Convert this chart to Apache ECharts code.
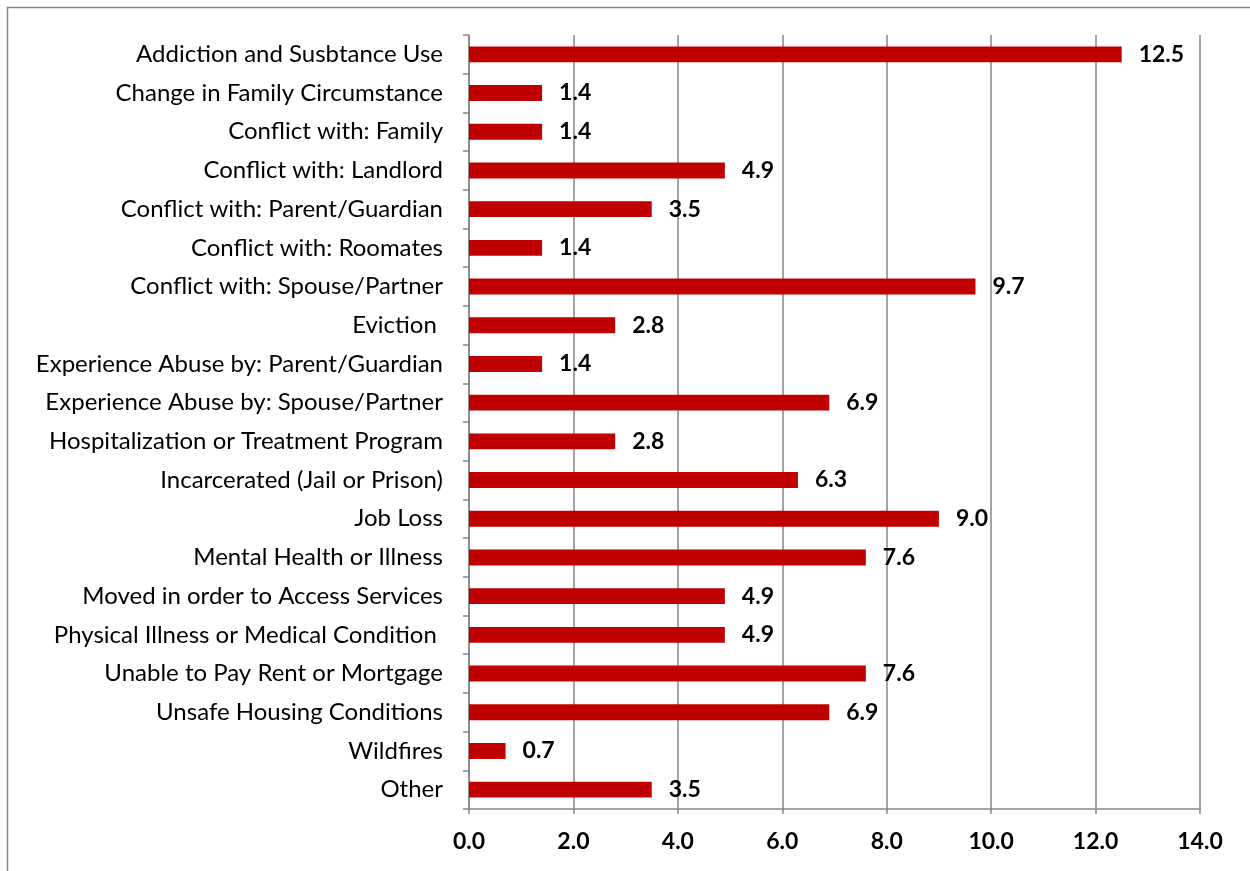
<!DOCTYPE html>
<html>
<head>
<meta charset="utf-8">
<script src="https://cdn.jsdelivr.net/npm/echarts@6/dist/echarts.min.js"></script>
<style>
  html, body { margin: 0; padding: 0; background: #fff; }
</style>
</head>
<body>
<div id="chart" style="width: 1250px; height: 871px"></div>
<script>
// categories, top to bottom
const reasons = [
  'Addiction and Susbtance Use',
  'Change in Family Circumstance',
  'Conflict with: Family',
  'Conflict with: Landlord',
  'Conflict with: Parent/Guardian',
  'Conflict with: Roomates',
  'Conflict with: Spouse/Partner',
  'Eviction ',
  'Experience Abuse by: Parent/Guardian',
  'Experience Abuse by: Spouse/Partner',
  'Hospitalization or Treatment Program',
  'Incarcerated (Jail or Prison)',
  'Job Loss',
  'Mental Health or Illness',
  'Moved in order to Access Services',
  'Physical Illness or Medical Condition ',
  'Unable to Pay Rent or Mortgage',
  'Unsafe Housing Conditions',
  'Wildfires',
  'Other'
]
// percentages
const percent = [12.5, 1.4, 1.4, 4.9, 3.5, 1.4, 9.7, 2.8, 1.4, 6.9, 2.8, 6.3, 9.0, 7.6, 4.9, 4.9, 7.6, 6.9, 0.7, 3.5]

const fontFamily = 'Lato, "Open Sans", sans-serif'
const gray = '#868686'

const chart = echarts.init(document.getElementById('chart'))

const option = {
  animation: false,
  textStyle: { fontFamily: fontFamily },
  graphic: [
    {
      type: 'rect',
      shape: { x: 7.5, y: 7.5, width: 1260, height: 900 },
      style: { fill: 'none', stroke: gray, lineWidth: 1.5 },
      silent: true
    }
  ],
  grid: {
    left: 469,
    right: 50,
    top: 35,
    bottom: 62
  },
  xAxis: {
    type: 'value',
    min: 0,
    max: 14,
    interval: 2,
    axisLine: { show: true, lineStyle: { color: gray, width: 1.5 } },
    axisTick: { show: true, length: 5, lineStyle: { color: gray, width: 1.5 } },
    splitLine: { show: true, lineStyle: { color: gray, width: 1.5 } },
    axisLabel: {
      color: '#000',
      fontWeight: 'bold',
      fontSize: 23,
      margin: 21,
      formatter: v => v.toFixed(1)
    }
  },
  yAxis: {
    type: 'category',
    data: reasons,
    inverse: true,
    axisLine: { show: true, lineStyle: { color: gray, width: 1.5 } },
    axisTick: { show: true, length: 6, lineStyle: { color: gray, width: 1.5 } },
    axisLabel: {
      color: '#000',
      fontSize: 24,
      margin: 26
    }
  },
  series: [
    {
      type: 'bar',
      data: percent,
      barCategoryGap: '59%',
      itemStyle: { color: '#C00000' },
      label: {
        show: true,
        position: 'right',
        distance: 17,
        color: '#000',
        fontWeight: 'bold',
        fontSize: 23,
        formatter: p => p.value.toFixed(1)
      }
    }
  ]
}

chart.setOption(option)
</script>
</body>
</html>
